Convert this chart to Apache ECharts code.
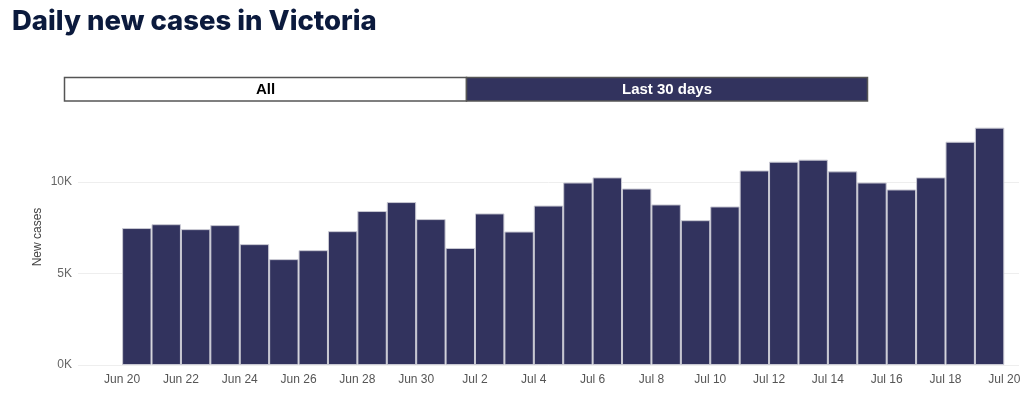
<!DOCTYPE html>
<html>
<head>
<meta charset="utf-8">
<title>Daily new cases in Victoria</title>
<script src="https://cdn.jsdelivr.net/npm/echarts@6/dist/echarts.min.js"></script>
<style>
  html, body { margin: 0; padding: 0; background: #fff; }
  #chart { width: 1024px; height: 399px; }
</style>
</head>
<body>
<div id="chart"></div>
<script>
// 数据：Jun 20 起每天一根柱
const days = ['Jun 20', 'Jun 21', 'Jun 22', 'Jun 23', 'Jun 24', 'Jun 25', 'Jun 26', 'Jun 27',
  'Jun 28', 'Jun 29', 'Jun 30', 'Jul 1', 'Jul 2', 'Jul 3', 'Jul 4', 'Jul 5', 'Jul 6', 'Jul 7',
  'Jul 8', 'Jul 9', 'Jul 10', 'Jul 11', 'Jul 12', 'Jul 13', 'Jul 14', 'Jul 15', 'Jul 16',
  'Jul 17', 'Jul 18', 'Jul 19', 'Jul 20'];
const newCases = [7490, 7700, 7430, 7650, 6610, 5790, 6280, 7320, 8420, 8910, 7980, 6400,
  8290, 7300, 8720, 9980, 10260, 9650, 8780, 7920, 8670, 10640, 11120, 11230, 10590,
  9980, 9600, 10260, 12210, 12980];
// x 轴标签（每两天一个）
const tickDays = [0, 2, 4, 6, 8, 10, 12, 14, 16, 18, 20, 22, 24, 26, 28, 30];
const yTicks = [0, 5000, 10000];

const chart = echarts.init(document.getElementById('chart'));

const gridLeft = 78;
const gridRight = 5;
const xMin = -1.5;
const xMax = 30.5;
const pxPerDay = (1024 - gridLeft - gridRight) / (xMax - xMin);

const option = {
  animation: false,
  title: {
    text: 'Daily new cases in Victoria',
    left: 7,
    top: 3,
    textStyle: {
      fontFamily: 'Inter, "Noto Sans", sans-serif',
      fontWeight: 800,
      fontSize: 27.5,
      color: '#0b1a3d'
    }
  },
  grid: { left: gridLeft, right: gridRight, top: 109, bottom: 34 },
  xAxis: {
    type: 'value',
    min: xMin,
    max: xMax,
    splitLine: { show: false },
    axisLine: { show: false },
    axisTick: { show: false },
    axisLabel: {
      customValues: tickDays,
      formatter: (v) => days[Math.round(v)] || '',
      color: '#555',
      fontFamily: '"Liberation Sans", Arial, sans-serif',
      fontSize: 12,
      margin: 9
    }
  },
  yAxis: {
    type: 'value',
    min: 0,
    max: 14000,
    interval: 5000,
    name: 'New cases',
    nameLocation: 'middle',
    nameGap: 34,
    nameMoveOverlap: false,
    nameTextStyle: {
      color: '#444',
      fontFamily: '"Liberation Sans", Arial, sans-serif',
      fontSize: 12
    },
    axisLine: { show: false },
    axisTick: { show: false },
    axisLabel: {
      customValues: yTicks,
      formatter: (v) => (v / 1000) + 'K',
      color: '#666',
      fontFamily: '"Liberation Sans", Arial, sans-serif',
      fontSize: 12,
      margin: 6
    },
    splitLine: {
      show: true,
      showMaxLine: false,
      lineStyle: { color: '#eeeeee', width: 1 }
    }
  },
  series: [
    {
      type: 'bar',
      data: newCases.map((v, i) => [i + 0.5, v]),
      barWidth: pxPerDay,
      itemStyle: {
        color: '#32335e',
        borderColor: '#c9c9d3',
        borderWidth: 1
      }
    }
  ],
  graphic: [
    {
      type: 'rect',
      shape: { x: 64.5, y: 77.5, width: 402, height: 23.5 },
      style: { fill: '#ffffff', stroke: '#555', lineWidth: 1.5 }
    },
    {
      type: 'rect',
      shape: { x: 466.5, y: 77.5, width: 401, height: 23.5 },
      style: { fill: '#32335e', stroke: '#555', lineWidth: 1.5 }
    },
    {
      type: 'text',
      x: 265.5,
      y: 89.5,
      style: {
        text: 'All',
        fill: '#000',
        font: 'bold 15px "Liberation Sans", Arial, sans-serif',
        align: 'center',
        verticalAlign: 'middle'
      }
    },
    {
      type: 'text',
      x: 667,
      y: 89.5,
      style: {
        text: 'Last 30 days',
        fill: '#ffffff',
        font: 'bold 15px "Liberation Sans", Arial, sans-serif',
        align: 'center',
        verticalAlign: 'middle'
      }
    }
  ]
};

chart.setOption(option);
</script>
</body>
</html>
